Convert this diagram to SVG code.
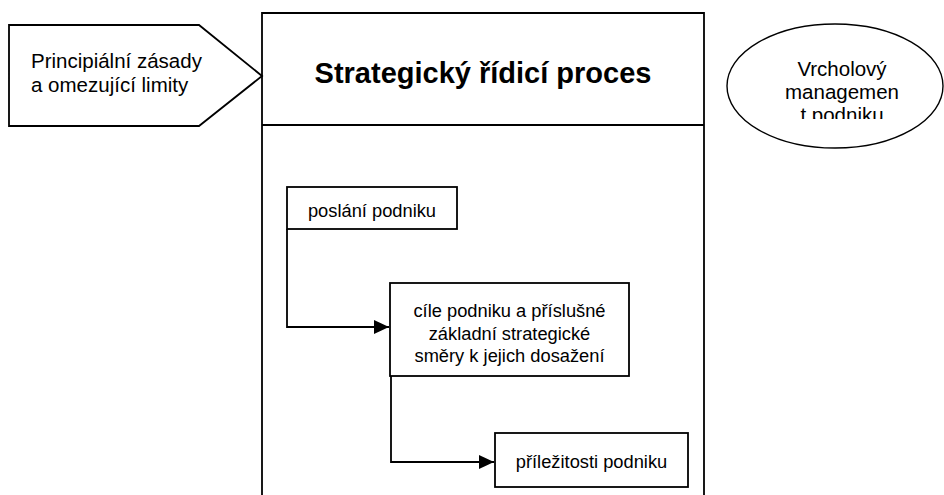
<svg xmlns="http://www.w3.org/2000/svg" width="944" height="495" viewBox="0 0 944 495">
<defs>
<style>
.shape{fill:#fff;stroke:#000;stroke-width:1.8}
.line{fill:none;stroke:#000;stroke-width:1.8}
.t{font-family:"Liberation Sans",Arial,sans-serif;fill:#000}
.c{text-anchor:middle}
</style>
<marker id="arr" viewBox="0 0 10 10" refX="10" refY="5" markerWidth="15" markerHeight="14" markerUnits="userSpaceOnUse" orient="auto" preserveAspectRatio="none">
<path d="M0,0 L10,5 L0,10 z" fill="#000"/>
</marker>
<clipPath id="ellclip"><rect x="727" y="40" width="217" height="79"/></clipPath>
</defs>
<rect width="944" height="495" fill="#fff"/>
<g id="process">
<path class="line" d="M262,495 V13 H704 V495"/>
<line class="line" x1="262" y1="125" x2="704" y2="125"/>
<text class="t c" x="483" y="83" font-size="29" font-weight="bold">Strategický řídicí proces</text>
</g>
<g id="principles">
<polygon class="shape" points="9,25 199,25 262,76 199,126 9,126"/>
<text class="t" x="31" y="68" font-size="20.5">Principiální zásady</text>
<text class="t" x="31" y="92" font-size="20.5">a omezující limity</text>
</g>
<g id="management">
<ellipse class="shape" style="stroke-width:1.4" cx="835" cy="86" rx="108" ry="62"/>
<g clip-path="url(#ellclip)">
<text class="t c" x="842" y="76" font-size="20.5">Vrcholový</text>
<text class="t c" x="842" y="99" font-size="20.5">managemen</text>
<text class="t c" x="842" y="122" font-size="20.5">t podniku</text>
</g>
</g>
<g id="mission">
<rect class="shape" x="287" y="187" width="170" height="42"/>
<text class="t c" x="372" y="217" font-size="18.3">poslání podniku</text>
</g>
<g id="goals">
<rect class="shape" x="390" y="283" width="239" height="93"/>
<text class="t c" x="509.5" y="317" font-size="18.3">cíle podniku a příslušné</text>
<text class="t c" x="509.5" y="340" font-size="18.3">základní strategické</text>
<text class="t c" x="509.5" y="362" font-size="18.3">směry k jejich dosažení</text>
</g>
<g id="opportunities">
<rect class="shape" x="495" y="433" width="193" height="54"/>
<text class="t c" x="591.5" y="468" font-size="18.3">příležitosti podniku</text>
</g>
<g id="connectors">
<path class="line" d="M287,229 V327 H389" marker-end="url(#arr)"/>
<path class="line" d="M391,376 V462 H494" marker-end="url(#arr)"/>
</g>
</svg>
